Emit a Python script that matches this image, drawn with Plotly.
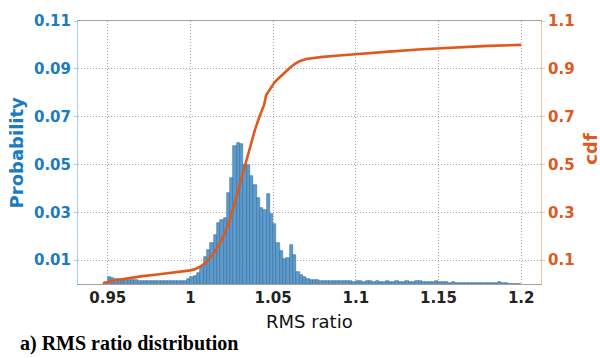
import plotly.graph_objects as go

# Histogram of the RMS ratio: bins of width 0.002 starting at 0.948
bin_start = 0.948
bin_width = 0.002
probability = [
    # 0.948 - 0.994
    0.0010, 0.0030, 0.0026, 0.0020, 0.0019, 0.0018, 0.0016, 0.0016,
    0.0015, 0.0015, 0.0014, 0.0014, 0.0013, 0.0014, 0.0012, 0.0013,
    0.0012, 0.0013, 0.0012, 0.0013, 0.0012, 0.0013, 0.0012, 0.0013,
    # 0.996 - 1.024
    0.0014, 0.0021, 0.0028, 0.0035, 0.0048, 0.0071, 0.0112, 0.0144,
    0.0171, 0.0207, 0.0256, 0.0266, 0.0275, 0.0379, 0.0445,
    # 1.026 - 1.064
    0.0576, 0.0590, 0.0586, 0.0497, 0.0497, 0.0450, 0.0415, 0.0361,
    0.0316, 0.0311, 0.0377, 0.0293, 0.0252, 0.0171, 0.0137, 0.0103,
    0.0110, 0.0164, 0.0120, 0.0052,
    # 1.066 - 1.198
    0.0039, 0.0028, 0.0019, 0.0018, 0.0017, 0.0015, 0.0014, 0.0014,
    0.0012, 0.0014, 0.0013, 0.0011, 0.0011, 0.0012, 0.0011, 0.0011,
    0.0010, 0.0011, 0.0011, 0.0010, 0.0014, 0.0011, 0.0010, 0.0011,
    0.0010, 0.0010, 0.0011, 0.0010, 0.0010, 0.0011, 0.0010, 0.0010,
    0.0011, 0.0010, 0.0010, 0.0011, 0.0014, 0.0010, 0.0009, 0.0008,
    0.0009, 0.0011, 0.0008, 0.0007, 0.0007, 0.0006, 0.0007, 0.0006,
    0.0006, 0.0006, 0.0005, 0.0006, 0.0005, 0.0005, 0.0004, 0.0005,
    0.0005, 0.0004, 0.0005, 0.0005, 0.0007, 0.0005, 0.0004, 0.0002,
    0.0001, 0.0001, 0.0000,
]

# Cumulative distribution
cdf_x = [0.947, 0.950, 0.955, 0.960, 0.970, 0.980, 0.990, 0.996, 1.000,
         1.003, 1.006, 1.009, 1.012, 1.015, 1.018, 1.021, 1.024, 1.027,
         1.030, 1.033, 1.036, 1.039, 1.042, 1.0445, 1.0458, 1.048, 1.051,
         1.054, 1.057, 1.060, 1.063, 1.066, 1.070, 1.075, 1.080, 1.090,
         1.100, 1.120, 1.140, 1.160, 1.180, 1.200]
cdf_y = [0.000, 0.008, 0.016, 0.022, 0.032, 0.040, 0.047, 0.052, 0.057,
         0.063, 0.073, 0.088, 0.110, 0.138, 0.172, 0.215, 0.272, 0.345,
         0.420, 0.500, 0.575, 0.645, 0.705, 0.748, 0.790, 0.815, 0.845,
         0.865, 0.885, 0.903, 0.920, 0.932, 0.941, 0.946, 0.950, 0.956,
         0.962, 0.972, 0.982, 0.990, 0.996, 1.000]

x_ticks = [0.95, 1.0, 1.05, 1.1, 1.15, 1.2]
x_ticktext = ["0.95", "1", "1.05", "1.1", "1.15", "1.2"]
prob_ticks = [0.01, 0.03, 0.05, 0.07, 0.09, 0.11]
cdf_ticks = [0.1, 0.3, 0.5, 0.7, 0.9, 1.1]

BLUE = "#1b7bc2"
ORANGE = "#e0581c"
BAR = "#5b9ccf"
BAR_EDGE = "#3c6d96"
GRID = "#a8a8a8"

centers = [bin_start + bin_width * (i + 0.5) for i in range(len(probability))]

fig = go.Figure()
fig.add_trace(go.Bar(
    x=centers, y=probability, width=bin_width,
    marker=dict(color=BAR, line=dict(color=BAR_EDGE, width=0.6)),
    yaxis="y", showlegend=False,
))
fig.add_trace(go.Scatter(
    x=cdf_x, y=cdf_y, mode="lines",
    line=dict(color=ORANGE, width=2.6),
    yaxis="y2", showlegend=False,
))

tick_font = dict(family="DejaVu Sans", size=15, weight="bold")

fig.update_layout(
    width=600, height=358,
    margin=dict(l=78, r=59, t=14, b=74),
    paper_bgcolor="white", plot_bgcolor="white",
    bargap=0,
    xaxis=dict(
        range=[0.932, 1.212], tickvals=x_ticks, ticktext=x_ticktext,
        tickfont=dict(color="#222222", **tick_font),
        showgrid=True, gridcolor=GRID, griddash="1px,2px", gridwidth=1,
        showline=True, linecolor="#a0a0a0", linewidth=1, mirror=True,
        zeroline=False, ticks="",
    ),
    yaxis=dict(
        range=[0, 0.11], tickvals=prob_ticks,
        tickfont=dict(color=BLUE, **tick_font),
        showgrid=True, gridcolor=GRID, griddash="1px,2px", gridwidth=1,
        showline=True, linecolor="#a9d0ec", linewidth=1,
        zeroline=False, ticks="outside", ticklen=3, tickcolor="#a9d0ec",
    ),
    yaxis2=dict(
        range=[0, 1.1], tickvals=cdf_ticks, overlaying="y", side="right",
        tickfont=dict(color=ORANGE, **tick_font),
        showgrid=False, showline=True, linecolor="#f2bfa5", linewidth=1,
        zeroline=False, ticks="outside", ticklen=3, tickcolor="#f2bfa5",
    ),
    annotations=[
        dict(text="Probability", xref="paper", yref="paper",
             x=-0.132, y=0.50, textangle=-90, showarrow=False,
             xanchor="center", yanchor="middle",
             font=dict(family="DejaVu Sans", size=18, color=BLUE, weight="bold")),
        dict(text="cdf", xref="paper", yref="paper",
             x=1.106, y=0.515, textangle=-90, showarrow=False,
             xanchor="center", yanchor="middle",
             font=dict(family="DejaVu Sans", size=18, color=ORANGE, weight="bold")),
        dict(text="RMS ratio", xref="paper", yref="paper",
             x=0.501, y=-0.144, showarrow=False,
             xanchor="center", yanchor="middle",
             font=dict(family="DejaVu Sans", size=18, color="#111111")),
        dict(text="a) RMS ratio distribution", xref="paper", yref="paper",
             x=-0.13, y=-0.225, showarrow=False,
             xanchor="left", yanchor="middle",
             font=dict(family="Liberation Serif", size=20, color="#000000", weight="bold")),
    ],
)

fig.write_html("out.html")
